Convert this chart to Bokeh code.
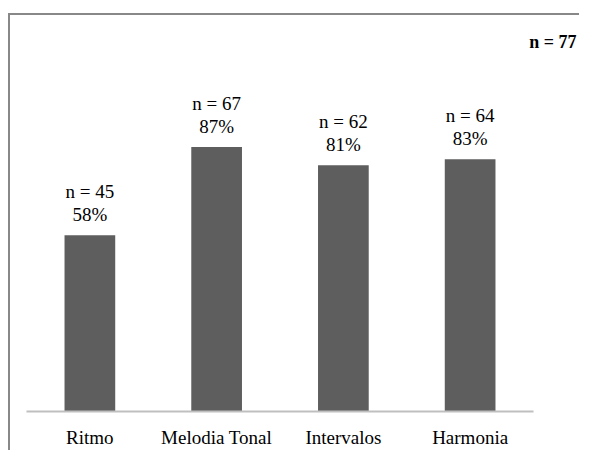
from bokeh.plotting import figure
from bokeh.models import ColumnDataSource, FactorRange, Range1d, Title, LabelSet
from bokeh.embed import file_html
from bokeh.resources import INLINE

categories = ["Ritmo", "Melodia Tonal", "Intervalos", "Harmonia"]
counts = [45, 67, 62, 64]
percents = [58, 87, 81, 83]
total = 77

n_labels = [f"n = {c}" for c in counts]
pct_labels = [f"{p}%" for p in percents]
src = ColumnDataSource(dict(cat=categories, pct=percents, nlab=n_labels, plab=pct_labels))

FONT = "Liberation Serif"
AXFONT = "Times New Roman"

p = figure(width=571, height=437, x_range=FactorRange(*categories, range_padding=0),
           y_range=Range1d(0, 117.1), output_backend="svg", toolbar_location=None,
           min_border_left=16, min_border_right=48, min_border_top=40, min_border_bottom=41)
p.styles = {"border-left": "2px solid #888888", "border-top": "2px solid #888888",
            "margin-top": "13px", "margin-left": "8px"}
p.outline_line_color = None
p.xgrid.grid_line_color = None
p.ygrid.grid_line_color = None
p.yaxis.visible = False

p.add_layout(Title(text=f"n = {total}", align="right", offset=-43, text_font=FONT,
                   text_font_size="18px", text_font_style="bold", text_color="#000000",
                   standoff=8), "above")

p.vbar(x="cat", top="pct", width=0.4, source=src, fill_color="#5e5e5e", line_color=None)

p.add_layout(LabelSet(x="cat", y="pct", text="plab", source=src, text_align="center",
                      text_baseline="middle", y_offset=21, text_font=FONT,
                      text_font_size="19px", text_color="#000000"))
p.add_layout(LabelSet(x="cat", y="pct", text="nlab", source=src, text_align="center",
                      text_baseline="middle", y_offset=44, text_font=FONT,
                      text_font_size="19px", text_color="#000000"))

ax = p.xaxis[0]
ax.axis_line_color = "#bfbfbf"
ax.axis_line_width = 2
ax.major_tick_line_color = None
ax.minor_tick_line_color = None
ax.major_tick_out = 0
ax.major_tick_in = 0
ax.minor_tick_out = 0
ax.minor_tick_in = 0
ax.major_label_text_font = AXFONT
ax.major_label_text_font_size = "19px"
ax.major_label_text_color = "#000000"
ax.major_label_standoff = 15

open("out.html", "w").write(file_html(p, INLINE))
